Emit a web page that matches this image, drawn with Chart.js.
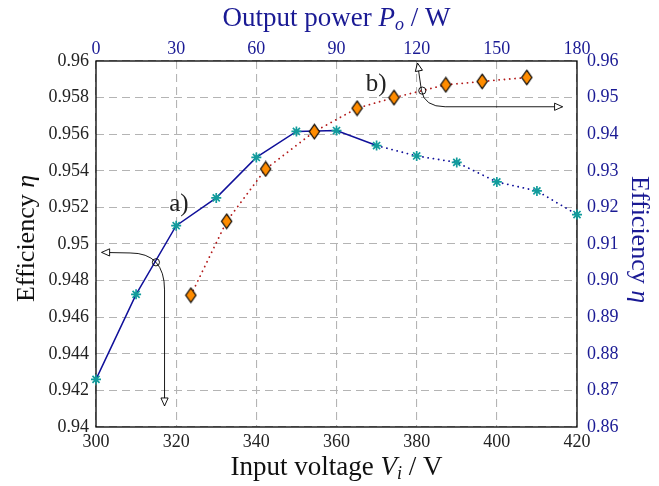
<!DOCTYPE html>
<html>
<head>
<meta charset="utf-8">
<script src="https://cdn.jsdelivr.net/npm/chart.js@4.4.1/dist/chart.umd.min.js"></script>
<style>
  html, body { margin: 0; padding: 0; background: #ffffff; }
  #wrap { width: 659px; height: 486px; }
</style>
</head>
<body>
<div id="wrap"><canvas id="chart" width="659" height="486"></canvas></div>
<script>
// a) efficiency over input voltage (bottom / left axes)
const inputVoltage = [300, 310, 320, 330, 340, 350, 360, 370, 380, 390, 400, 410, 420];
const efficiencyA = [0.9426, 0.94725, 0.9510, 0.95252, 0.95473, 0.95615, 0.9562, 0.95538, 0.95481, 0.95446, 0.95339, 0.9529, 0.95161];

// b) efficiency over output power (top / right axes)
const outputPower = [35.5, 48.9, 63.5, 81.7, 97.7, 111.5, 130.9, 144.5, 161.2];
const efficiencyB = [0.896, 0.9162, 0.9305, 0.9407, 0.9471, 0.950, 0.9535, 0.9544, 0.9555];

// tick labels
const bottomTicks = ['300', '320', '340', '360', '380', '400', '420'];
const topTicks = ['0', '30', '60', '90', '120', '150', '180'];
const leftTicks = ['0.94', '0.942', '0.944', '0.946', '0.948', '0.95', '0.952', '0.954', '0.956', '0.958', '0.96'];
const rightTicks = ['0.86', '0.87', '0.88', '0.89', '0.90', '0.91', '0.92', '0.93', '0.94', '0.95', '0.96'];

const SERIF = '"Liberation Serif", "Times New Roman", serif';
const BLUE_TEXT = '#1a1a94';

// pgfplots-like diamond marker
function makeDiamond() {
    const c = document.createElement('canvas');
    c.width = 13;
    c.height = 17;
    const g = c.getContext('2d');
    g.beginPath();
    g.moveTo(6.5, 1.2);
    g.lineTo(11.6, 8.5);
    g.lineTo(6.5, 15.8);
    g.lineTo(1.4, 8.5);
    g.closePath();
    g.fillStyle = '#ff8c00';
    g.fill();
    g.lineWidth = 1.2;
    g.strokeStyle = '#000000';
    g.stroke();
    return c;
}

function fixedTicks(labels) {
    return scale => {
        scale.ticks = labels.map(v => ({ value: Number(v) }));
    };
}

function tickFont() {
    return { family: SERIF, size: 18 };
}

// text with italic and subscript parts
function drawRich(ctx, parts, x, y, rotation) {
    ctx.save();
    ctx.translate(x, y);
    ctx.rotate(rotation);
    let total = 0;
    parts.forEach(p => {
        ctx.font = p.font;
        p.w = ctx.measureText(p.text).width;
        total += p.w;
    });
    let cx = -total / 2;
    ctx.textBaseline = 'alphabetic';
    ctx.textAlign = 'left';
    parts.forEach(p => {
        ctx.font = p.font;
        ctx.fillStyle = p.color;
        ctx.fillText(p.text, cx, p.dy || 0);
        cx += p.w;
    });
    ctx.restore();
}

function openArrow(ctx, tipX, tipY, angle) {
    ctx.save();
    ctx.translate(tipX, tipY);
    ctx.rotate(angle);
    ctx.beginPath();
    ctx.moveTo(0, 0);
    ctx.lineTo(-8, -3.6);
    ctx.lineTo(-8, 3.6);
    ctx.closePath();
    ctx.fillStyle = '#ffffff';
    ctx.fill();
    ctx.lineWidth = 0.9;
    ctx.strokeStyle = '#000000';
    ctx.stroke();
    ctx.restore();
}

const framePlugin = {
    id: 'frame',
    beforeDatasetsDraw(chart) {
        const { ctx, chartArea: a } = chart;
        ctx.save();
        ctx.lineWidth = 1.3;
        ctx.strokeStyle = '#000000';
        ctx.strokeRect(a.left, a.top, a.right - a.left, a.bottom - a.top);
        ctx.restore();
    }
};

const annotationPlugin = {
    id: 'notes',
    afterDatasetsDraw(chart) {
        const { ctx } = chart;
        const sx = chart.scales.x;
        const sy = chart.scales.y;
        const px = v => sx.getPixelForValue(v);
        const py = v => sy.getPixelForValue(v);

        ctx.save();
        ctx.strokeStyle = '#000000';
        ctx.lineWidth = 0.9;

        // a) -> left and bottom axes
        ctx.beginPath();
        ctx.moveTo(px(301.4), py(0.94954));
        ctx.lineTo(px(308.5), py(0.94951));
        ctx.quadraticCurveTo(px(317.1), py(0.94951), px(317.1), py(0.94749));
        ctx.lineTo(px(317.1), py(0.94115));
        ctx.stroke();
        ctx.beginPath();
        ctx.arc(px(314.95), py(0.9490), 3.6, 0, Math.PI * 2);
        ctx.stroke();
        openArrow(ctx, px(301.4), py(0.94954), Math.PI);
        openArrow(ctx, px(317.1), py(0.94115), Math.PI / 2);

        // b) -> top and right axes
        ctx.beginPath();
        ctx.moveTo(px(380.2), py(0.95989));
        ctx.lineTo(px(381.2), py(0.95838));
        ctx.quadraticCurveTo(px(381.9), py(0.95750), px(387.1), py(0.95750));
        ctx.lineTo(px(416.4), py(0.95750));
        ctx.stroke();
        ctx.beginPath();
        ctx.arc(px(381.4), py(0.95838), 3.6, 0, Math.PI * 2);
        ctx.stroke();
        openArrow(ctx, px(380.2), py(0.95989), -Math.PI / 2 - 0.18);
        openArrow(ctx, px(416.4), py(0.95750), 0);

        ctx.fillStyle = '#222222';
        ctx.font = '25px ' + SERIF;
        ctx.textAlign = 'center';
        ctx.textBaseline = 'alphabetic';
        ctx.fillText('a)', px(320.7), py(0.9518));
        ctx.fillText('b)', px(369.9), py(0.95836));
        ctx.restore();
    }
};

const titlesPlugin = {
    id: 'titles',
    afterDraw(chart) {
        const { ctx, chartArea: a } = chart;
        const mid = (a.left + a.right) / 2;
        const midY = (a.top + a.bottom) / 2;
        const f = (size, italic) => (italic ? 'italic ' : '') + size + 'px ' + SERIF;
        const dark = '#111111';

        drawRich(ctx, [
            { text: 'Input voltage ', font: f(27), color: dark },
            { text: 'V', font: f(27, true), color: dark },
            { text: 'i', font: f(18, true), color: dark, dy: 4 },
            { text: ' / V', font: f(27), color: dark }
        ], mid, 475, 0);

        drawRich(ctx, [
            { text: 'Output power ', font: f(27), color: BLUE_TEXT },
            { text: 'P', font: f(27, true), color: BLUE_TEXT },
            { text: 'o', font: f(18, true), color: BLUE_TEXT, dy: 4 },
            { text: ' / W', font: f(27), color: BLUE_TEXT }
        ], mid, 26, 0);

        drawRich(ctx, [
            { text: 'Efficiency ', font: f(26), color: dark },
            { text: '\u03b7', font: f(26, true), color: dark }
        ], 34, midY - 5.5, -Math.PI / 2);

        drawRich(ctx, [
            { text: 'Efficiency ', font: f(26), color: BLUE_TEXT },
            { text: '\u03b7', font: f(26, true), color: BLUE_TEXT }
        ], 632, midY - 4.5, Math.PI / 2);
    }
};

const diamond = makeDiamond();

const datasets = [
    {
        label: 'b)',
        data: outputPower.map((p, i) => ({ x: p, y: efficiencyB[i] })),
        xAxisID: 'x2',
        yAxisID: 'y2',
        borderColor: '#b31b1b',
        borderWidth: 1.8,
        borderDash: [0.1, 5.2],
        borderCapStyle: 'round',
        pointStyle: diamond,
        pointRadius: 6,
        tension: 0,
        clip: false,
        order: 0
    },
    {
        label: 'a)',
        data: inputVoltage.map((v, i) => ({ x: v, y: efficiencyA[i] })),
        xAxisID: 'x',
        yAxisID: 'y',
        borderColor: '#10109a',
        borderWidth: 1.5,
        borderCapStyle: 'round',
        segment: {
            borderDash: c => (c.p0.parsed.x >= 370 ? [0.1, 5.2] : undefined),
            borderWidth: c => (c.p0.parsed.x >= 370 ? 1.8 : 1.5)
        },
        pointStyle: 'star',
        pointRadius: 5,
        pointBorderWidth: 1.7,
        pointBorderColor: '#129c9c',
        pointBackgroundColor: '#129c9c',
        tension: 0,
        clip: false,
        order: 1
    }
];

new Chart(document.getElementById('chart'), {
    type: 'line',
    data: { datasets },
    options: {
        responsive: false,
        animation: false,
        layout: { padding: 0 },
        plugins: {
            legend: { display: false },
            tooltip: { enabled: false }
        },
        scales: {
            x: {
                type: 'linear',
                position: 'bottom',
                min: 300,
                max: 420,
                afterBuildTicks: fixedTicks(bottomTicks),
                afterFit: s => { s.height = 59; },
                ticks: {
                    callback: (v, i) => bottomTicks[i],
                    color: '#222222',
                    font: tickFont(),
                    padding: 4,
                    maxRotation: 0,
                    autoSkip: false
                },
                grid: { color: '#b4b4b4', lineWidth: 1.1, drawTicks: false },
                border: { display: false, dash: [8, 5] }
            },
            x2: {
                type: 'linear',
                position: 'top',
                min: 0,
                max: 180,
                afterBuildTicks: fixedTicks(topTicks),
                afterFit: s => { s.height = 61; },
                ticks: {
                    callback: (v, i) => topTicks[i],
                    color: BLUE_TEXT,
                    font: tickFont(),
                    padding: 1,
                    maxRotation: 0,
                    autoSkip: false
                },
                grid: { display: false, drawTicks: false },
                border: { display: false }
            },
            y: {
                type: 'linear',
                position: 'left',
                min: 0.94,
                max: 0.96,
                afterBuildTicks: fixedTicks(leftTicks),
                afterFit: s => { s.width = 96; },
                ticks: {
                    callback: (v, i) => leftTicks[i],
                    color: '#222222',
                    font: tickFont(),
                    padding: 7,
                    autoSkip: false
                },
                grid: { color: '#b4b4b4', lineWidth: 1.1, drawTicks: false },
                border: { display: false, dash: [8, 5] }
            },
            y2: {
                type: 'linear',
                position: 'right',
                min: 0.86,
                max: 0.96,
                afterBuildTicks: fixedTicks(rightTicks),
                afterFit: s => { s.width = 82; },
                ticks: {
                    callback: (v, i) => rightTicks[i],
                    color: BLUE_TEXT,
                    font: tickFont(),
                    padding: 10,
                    autoSkip: false
                },
                grid: { display: false, drawTicks: false },
                border: { display: false }
            }
        }
    },
    plugins: [framePlugin, annotationPlugin, titlesPlugin]
});
</script>
</body>
</html>
